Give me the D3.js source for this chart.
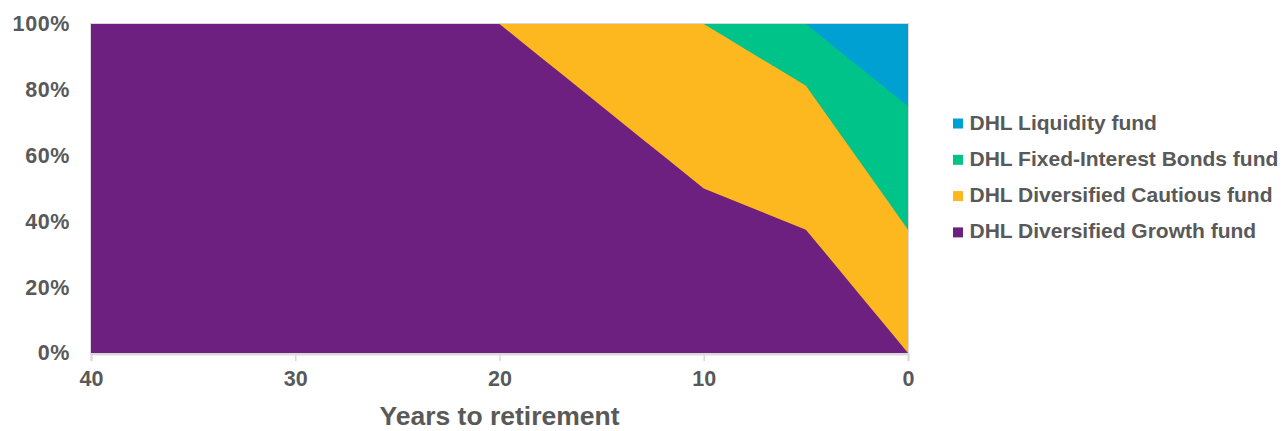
<!DOCTYPE html>
<html>
<head>
<meta charset="utf-8">
<script src="https://cdn.jsdelivr.net/npm/d3@7"></script>
<style>
  html, body { margin: 0; padding: 0; background: #ffffff; }
  svg { display: block; }
  text { font-family: "Liberation Sans", Arial, sans-serif; font-weight: bold; fill: #595959; }
</style>
</head>
<body>
<svg id="chart" width="1283" height="431"></svg>
<script>
// Years to retirement (x values)
const years = [40, 20, 19, 18, 17, 16, 15, 14, 13, 12, 11, 10, 9, 8, 7, 6, 5, 4, 3, 2, 1, 0];
// Allocation (%) per fund
const growth    = [100, 100, 95, 90, 85, 80, 75, 70, 65, 60, 55, 50, 47.5, 45, 42.5, 40, 37.5, 30, 22.5, 15, 7.5, 0];
const cautious  = [0, 0, 5, 10, 15, 20, 25, 30, 35, 40, 45, 50, 48.75, 47.5, 46.25, 45, 43.75, 42.5, 41.25, 40, 38.75, 37.5];
const bonds     = [0, 0, 0, 0, 0, 0, 0, 0, 0, 0, 0, 0, 3.75, 7.5, 11.25, 15, 18.75, 22.5, 26.25, 30, 33.75, 37.5];
const liquidity = [0, 0, 0, 0, 0, 0, 0, 0, 0, 0, 0, 0, 0, 0, 0, 0, 0, 5, 10, 15, 20, 25];

const seriesKeys  = ["growth", "cautious", "bonds", "liquidity"];
const seriesNames = ["DHL Diversified Growth fund", "DHL Diversified Cautious fund", "DHL Fixed-Interest Bonds fund", "DHL Liquidity fund"];
const seriesColors = ["#6D2080", "#FDB71F", "#00C389", "#00A0D2"];

const xTicks = [40, 30, 20, 10, 0];
const yTicks = [0, 20, 40, 60, 80, 100];
const xTitle = "Years to retirement";

const svg = d3.select("#chart");
const plot = { left: 91, right: 908, top: 24, bottom: 353 };

const x = d3.scaleLinear().domain([40, 0]).range([plot.left, plot.right]);
const y = d3.scaleLinear().domain([0, 100]).range([plot.bottom, plot.top]);

const table = years.map((yr, i) => ({
  year: yr, growth: growth[i], cautious: cautious[i], bonds: bonds[i], liquidity: liquidity[i]
}));

const stacked = d3.stack().keys(seriesKeys)(table);

// plot border (light)
svg.append("rect")
  .attr("x", plot.left - 0.5).attr("y", plot.top - 0.5)
  .attr("width", plot.right - plot.left + 1).attr("height", plot.bottom - plot.top + 1)
  .attr("fill", "none").attr("stroke", "#d9d9d9").attr("stroke-width", 1);

// Draw each layer from the baseline up to its cumulative top, topmost first,
// so lower layers cover upper ones without anti-aliasing seams.
const area = d3.area()
  .x(d => x(d.data.year))
  .y0(() => y(0))
  .y1(d => y(d[1]));

const layers = stacked.map((s, i) => ({ s, i })).reverse();
svg.append("g").selectAll("path")
  .data(layers)
  .join("path")
  .attr("d", d => area(d.s))
  .attr("fill", d => seriesColors[d.i]);

// X axis
const xAxis = svg.append("g")
  .attr("transform", `translate(0,${plot.bottom + 1})`)
  .call(d3.axisBottom(x).tickValues(xTicks).tickSize(7).tickPadding(10).tickFormat(d3.format("d")));
xAxis.select(".domain").attr("stroke", "#d9d9d9").attr("stroke-width", 2);
xAxis.selectAll(".tick line").attr("stroke", "#d9d9d9").attr("stroke-width", 1.5);
xAxis.selectAll(".tick text")
  .attr("font-size", "21.5px")
  .attr("font-family", "Liberation Sans, Arial, sans-serif")
  .attr("font-weight", "bold")
  .attr("fill", "#595959")
  .attr("dy", "0.71em");

// Y axis (labels only)
const yAxis = svg.append("g")
  .attr("transform", `translate(${plot.left},0)`)
  .call(d3.axisLeft(y).tickValues(yTicks).tickSize(0).tickPadding(21).tickFormat(d => d + "%"));
yAxis.select(".domain").remove();
yAxis.selectAll(".tick text")
  .attr("font-size", "21.5px")
  .attr("font-family", "Liberation Sans, Arial, sans-serif")
  .attr("font-weight", "bold")
  .attr("fill", "#595959")
  .attr("letter-spacing", "0.6px");

// X axis title
svg.append("text")
  .attr("x", (plot.left + plot.right) / 2)
  .attr("y", 425)
  .attr("text-anchor", "middle")
  .attr("font-size", "26.5px")
  .text(xTitle);

// Legend (reverse order: top series first)
const legendOrder = [3, 2, 1, 0];
const legend = svg.append("g");
legendOrder.forEach((si, row) => {
  const by = 129.5 + row * 36.3;
  legend.append("rect")
    .attr("x", 953).attr("y", by - 11)
    .attr("width", 10).attr("height", 10)
    .attr("fill", seriesColors[si]);
  legend.append("text")
    .attr("x", 969.5).attr("y", by)
    .attr("font-size", "21px")
    .text(seriesNames[si]);
});
</script>
</body>
</html>
